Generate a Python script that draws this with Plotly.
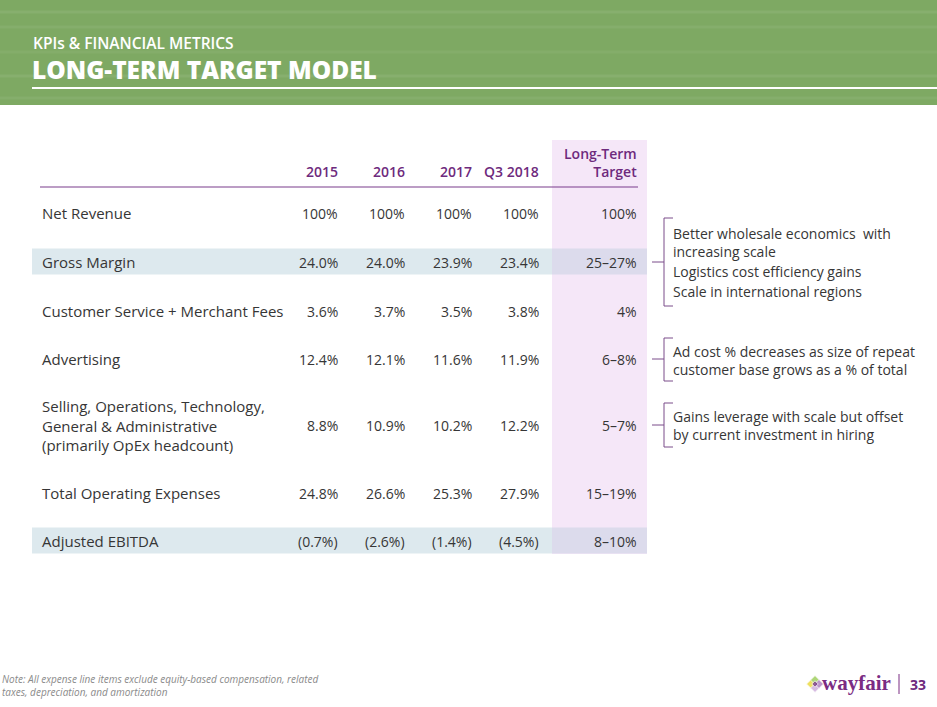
import plotly.graph_objects as go

# ---------------- data ----------------
col_headers = ["2015", "2016", "2017", "Q3 2018", "Long-Term<br>Target"]
row_labels = [
    "Net Revenue",
    "Gross Margin",
    "Customer Service + Merchant Fees",
    "Advertising",
    "Selling, Operations, Technology,<br>General & Administrative<br>(primarily OpEx headcount)",
    "Total Operating Expenses",
    "Adjusted EBITDA",
]
v2015 = ["100%", "24.0%", "3.6%", "12.4%", "8.8%", "24.8%", "(0.7%)"]
v2016 = ["100%", "24.0%", "3.7%", "12.1%", "10.9%", "26.6%", "(2.6%)"]
v2017 = ["100%", "23.9%", "3.5%", "11.6%", "10.2%", "25.3%", "(1.4%)"]
vq3_2018 = ["100%", "23.4%", "3.8%", "11.9%", "12.2%", "27.9%", "(4.5%)"]
v_target = ["100%", "25\u201327%", "4%", "6\u20138%", "5\u20137%", "15\u201319%", "8\u201310%"]
highlight_rows = ["Gross Margin", "Adjusted EBITDA"]

notes_gross = ["Better wholesale economics  with<br>increasing scale",
               "Logistics cost efficiency gains", "Scale in international regions"]
notes_adv = ["Ad cost % decreases as size of repeat<br>customer base grows as a % of total"]
notes_sga = ["Gains leverage with scale but offset<br>by current investment in hiring"]

title_small = "KPIs & FINANCIAL METRICS"
title_big = "LONG-TERM TARGET MODEL"
footnote = "Note: All expense line items exclude equity-based compensation, related<br>taxes, depreciation, and amortization"
page_no = "33"

# ---------------- layout constants ----------------
W, H = 937, 707
FONT = "Open Sans"
TXT = "#363636"
PURPLE = "#6e2a7d"
GREEN = "#7ea963"
col_right = [340, 407, 474, 541, 639]
row_y = [213, 262, 311, 359, 425, 493, 541]

fig = go.Figure()
shapes = []
ann = []

# header band
shapes.append(dict(type="rect", x0=0, x1=W, y0=0, y1=105, fillcolor=GREEN, line_width=0, layer="below"))
for yy, op in [(12, 0.07), (27, 0.06), (52, 0.05), (76, 0.07), (98, 0.06)]:
    shapes.append(dict(type="line", x0=0, x1=W, y0=yy, y1=yy, line=dict(color="rgba(255,255,255,%s)" % op, width=3)))
shapes.append(dict(type="line", x0=32, x1=W, y0=88, y1=88, line=dict(color="white", width=2)))
ann.append(dict(x=31, y=43, text=title_small, xanchor="left", yanchor="middle", showarrow=False,
                font=dict(family=FONT, size=15.5, color="white", weight=600)))
ann.append(dict(x=30, y=69.3, text=title_big, xanchor="left", yanchor="middle", showarrow=False,
                font=dict(family=FONT, size=24.5, color="white", weight=800)))

# target column background
shapes.append(dict(type="rect", x0=552, x1=647, y0=140, y1=554, fillcolor="#f5e7f8", line_width=0, layer="below"))

# highlighted rows
for lab, yy in zip(row_labels, row_y):
    if lab in highlight_rows:
        shapes.append(dict(type="rect", x0=32, x1=552, y0=yy - 13.5, y1=yy + 12.5,
                           fillcolor="#dde9ee", line_width=0, layer="below"))
        shapes.append(dict(type="rect", x0=552, x1=647, y0=yy - 13.5, y1=yy + 12.5,
                           fillcolor="#dcdbec", line_width=0, layer="below"))

# header row
for i, (h, xr) in enumerate(zip(col_headers, col_right)):
    ann.append(dict(x=xr, y=171 if i < 4 else 162, text=h, xanchor="right", yanchor="middle", showarrow=False,
                    align="right", font=dict(family=FONT, size=14, color=PURPLE, weight=600)))
shapes.append(dict(type="line", x0=40, x1=638, y0=187, y1=187, line=dict(color="#7a3d8c", width=1.2)))

# body
cols = [v2015, v2016, v2017, vq3_2018, v_target]
for r, (lab, yy) in enumerate(zip(row_labels, row_y)):
    ann.append(dict(x=40, y=yy, text=lab, xanchor="left", yanchor="middle", showarrow=False, align="left",
                    font=dict(family=FONT, size=15, color=TXT, weight=500)))
    for c, xr in enumerate(col_right):
        ann.append(dict(x=xr, y=yy, text=cols[c][r], xanchor="right", yanchor="middle", showarrow=False,
                        font=dict(family=FONT, size=14, color=TXT, weight=500)))

# brackets with notes
BR = "#7a4d8a"
def bracket(y_top, y_bot, y_mid):
    shapes.append(dict(type="line", x0=664, x1=664, y0=y_top, y1=y_bot, line=dict(color=BR, width=1)))
    shapes.append(dict(type="line", x0=664, x1=673, y0=y_top, y1=y_top, line=dict(color=BR, width=1)))
    shapes.append(dict(type="line", x0=664, x1=673, y0=y_bot, y1=y_bot, line=dict(color=BR, width=1)))
    shapes.append(dict(type="line", x0=652, x1=664, y0=y_mid, y1=y_mid, line=dict(color=BR, width=1)))

bracket(218, 306, row_y[1])
bracket(338, 381, row_y[3])
bracket(403, 447, row_y[4])
for txt, yy in zip(notes_gross, [242, 271, 291]):
    ann.append(dict(x=671, y=yy, text=txt, xanchor="left", yanchor="middle", showarrow=False, align="left",
                    font=dict(family=FONT, size=14, color=TXT, weight=500)))
for txt, yy in zip(notes_adv, [360]):
    ann.append(dict(x=671, y=yy, text=txt, xanchor="left", yanchor="middle", showarrow=False, align="left",
                    font=dict(family=FONT, size=14, color=TXT, weight=500)))
for txt, yy in zip(notes_sga, [425]):
    ann.append(dict(x=671, y=yy, text=txt, xanchor="left", yanchor="middle", showarrow=False, align="left",
                    font=dict(family=FONT, size=14, color=TXT, weight=500)))

# footnote
ann.append(dict(x=0, y=685, text="<i>" + footnote + "</i>", xanchor="left", yanchor="middle", showarrow=False,
                align="left", font=dict(family=FONT, size=10, color="#8a8a8a")))

# logo
fig.add_trace(go.Scatter(x=[811, 815, 815, 819, 815], y=[684, 680, 688, 684, 684], mode="markers",
                         marker=dict(symbol="diamond", size=[7, 7, 7, 7, 5],
                                     color=["#e8d31c", "#8cc63f", "#c7a0d6", "#a06bb4", "#6e2a7d"]),
                         hoverinfo="skip", showlegend=False))
ann.append(dict(x=820, y=683, text="<b>wayfair</b>", xanchor="left", yanchor="middle", showarrow=False,
                font=dict(family="Liberation Serif", size=21, color="#7b2c83")))
shapes.append(dict(type="line", x0=899, x1=899, y0=674, y1=694, line=dict(color="#7b2c83", width=1)))
ann.append(dict(x=918, y=684, text="<b>" + page_no + "</b>", xanchor="center", yanchor="middle", showarrow=False,
                font=dict(family=FONT, size=14, color="#6e2a7d")))

fig.update_layout(
    width=W, height=H, margin=dict(l=0, r=0, t=0, b=0),
    paper_bgcolor="white", plot_bgcolor="white",
    xaxis=dict(range=[0, W], visible=False, fixedrange=True),
    yaxis=dict(range=[H, 0], visible=False, fixedrange=True),
    shapes=shapes, annotations=ann, showlegend=False,
)
fig.write_html("out.html", config={"displayModeBar": False},
               post_script="document.body.style.margin='0';document.body.style.overflow='hidden';")
